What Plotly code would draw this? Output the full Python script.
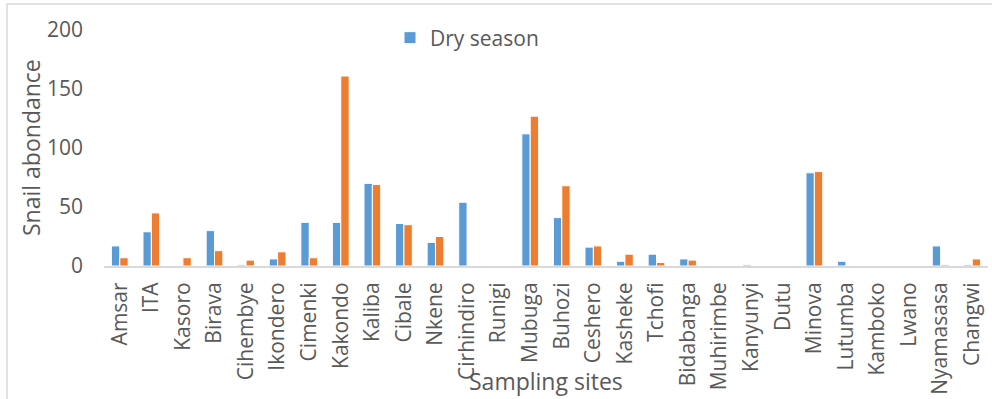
import plotly.graph_objects as go

sites = ["Amsar", "ITA", "Kasoro", "Birava", "Cihembye", "Ikondero", "Cimenki", "Kakondo",
         "Kaliba", "Cibale", "Nkene", "Cirhindiro", "Runigi", "Mubuga", "Buhozi", "Ceshero",
         "Kasheke", "Tchofi", "Bidabanga", "Muhirimbe", "Kanyunyi", "Dutu", "Minova",
         "Lutumba", "Kamboko", "Lwano", "Nyamasasa", "Changwi"]
dry_season = [17, 29, 0, 30, 1, 6, 37, 37, 70, 36, 20, 54, 0, 112, 41, 16, 4, 10, 6, 0, 1, 0, 79, 4, 0, 0, 17, 1]
rainy_season = [7, 45, 7, 13, 5, 12, 7, 161, 69, 35, 25, 0, 0, 127, 68, 17, 10, 3, 5, 0, 0, 0, 80, 0, 0, 0, 1, 6]
y_ticks = [0, 50, 100, 150, 200]

W, H = 992, 399
L, R, T, B = 104, 4, 30, 133
pw, ph = W - L - R, H - T - B

def px_x(x):
    return (x - L) / pw

def px_y(y):
    return (H - B - y) / ph

FONT = "Open Sans"
GREY = "#595959"

fig = go.Figure()
fig.add_bar(x=sites, y=dry_season, name="Dry season", marker=dict(color="#5B9BD5", line=dict(color="white", width=1)))
fig.add_bar(x=sites, y=rainy_season, name="Rainy season", showlegend=False,
            marker=dict(color="#ED7D31", line=dict(color="white", width=1)))

fig.update_layout(
    width=W, height=H,
    margin=dict(l=L, r=R, t=T, b=B, autoexpand=False),
    paper_bgcolor="white", plot_bgcolor="white",
    barmode="group", bargap=0.47, bargroupgap=0.0,
    font=dict(family=FONT, color=GREY, size=21),
    showlegend=True,
    legend=dict(x=px_x(390), y=px_y(38), xanchor="left", yanchor="middle",
                font=dict(size=21, color=GREY), bgcolor="rgba(0,0,0,0)"),
    xaxis=dict(tickangle=-90, showline=True, linecolor="#d9d9d9", linewidth=2, automargin=False,
               showgrid=False, ticks="", ticklabelstandoff=6, tickfont=dict(size=21, color=GREY)),
    yaxis=dict(range=[0, 200], tickvals=y_ticks, showgrid=False, showline=False, zeroline=False,
               automargin=False, ticks="", ticklabelstandoff=20, tickfont=dict(size=21, color=GREY)),
)

fig.add_annotation(text="Snail abondance", xref="paper", yref="paper", x=px_x(31), y=px_y(148),
                   textangle=-90, showarrow=False, font=dict(size=23, color=GREY),
                   xanchor="center", yanchor="middle")
fig.add_annotation(text="Sampling sites", xref="paper", yref="paper", x=px_x(546), y=px_y(381),
                   showarrow=False, font=dict(size=23, color=GREY), xanchor="center", yanchor="middle")

fig.add_shape(type="rect", xref="paper", yref="paper", x0=px_x(7), x1=px_x(1000), y0=px_y(410), y1=px_y(4),
              line=dict(color="#d9d9d9", width=1.5), fillcolor="rgba(0,0,0,0)", layer="below")

fig.write_html("out.html", config={"displayModeBar": False},
               post_script="document.body.style.margin='0';document.body.style.overflow='hidden';")
